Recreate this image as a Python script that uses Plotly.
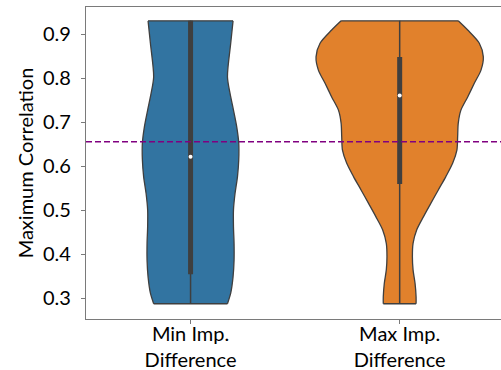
import plotly.graph_objects as go

# ---- data ----
categories = ["Min Imp.<br>Difference", "Max Imp.<br>Difference"]

# violin density profiles (relative density, 1 = widest violin section)
min_levels = [0.287, 0.311, 0.348, 0.386, 0.424, 0.462, 0.500, 0.538, 0.576,
              0.614, 0.652, 0.689, 0.727, 0.765, 0.803, 0.879, 0.930]
min_density = [0.441, 0.480, 0.508, 0.520, 0.520, 0.513, 0.513, 0.532, 0.561,
               0.576, 0.576, 0.552, 0.513, 0.472, 0.441, 0.480, 0.508]

max_levels = [0.287, 0.303, 0.333, 0.364, 0.394, 0.424, 0.455, 0.485, 0.515,
              0.545, 0.576, 0.606, 0.636, 0.667, 0.697, 0.727, 0.757, 0.788,
              0.818, 0.848, 0.879, 0.909, 0.930]
max_density = [0.196, 0.196, 0.184, 0.160, 0.152, 0.160, 0.204, 0.285, 0.372,
               0.460, 0.552, 0.633, 0.684, 0.693, 0.700, 0.732, 0.813, 0.892,
               0.972, 1.000, 0.952, 0.813, 0.700]

# inner box statistics
whisker_low = [0.287, 0.287]
q1 = [0.354, 0.559]
median = [0.621, 0.760]
q3 = [0.930, 0.848]
whisker_high = [0.930, 0.930]

threshold = 0.655

colors = ["#3274a1", "#e1812c"]
edge = "#3f3f3f"
axis_col = "#7a7a7a"
FONT = "Lato"
FS = 20
half_width = 0.4  # seaborn default width 0.8

profiles = [(min_levels, min_density), (max_levels, max_density)]

fig = go.Figure()

for i, (levels, dens) in enumerate(profiles):
    left = [i - half_width * d for d in dens]
    right = [i + half_width * d for d in dens]
    # left edge
    fig.add_trace(go.Scatter(
        x=left, y=levels, mode="lines",
        line=dict(color=edge, width=1.3, shape="spline", smoothing=0.8),
        hoverinfo="skip", showlegend=False))
    # right edge, filled back to the left edge
    fig.add_trace(go.Scatter(
        x=right, y=levels, mode="lines", fill="tonextx", fillcolor=colors[i],
        line=dict(color=edge, width=1.3, shape="spline", smoothing=0.8),
        hoverinfo="skip", showlegend=False))
    # flat top and bottom edges (cut at data range)
    for k in (0, -1):
        fig.add_trace(go.Scatter(
            x=[left[k], right[k]], y=[levels[k], levels[k]], mode="lines",
            line=dict(color=edge, width=1.3), hoverinfo="skip", showlegend=False))
    # whisker
    fig.add_trace(go.Scatter(
        x=[i, i], y=[whisker_low[i], whisker_high[i]], mode="lines",
        line=dict(color=edge, width=1.5), showlegend=False, hoverinfo="skip"))
    # interquartile bar
    fig.add_trace(go.Scatter(
        x=[i, i], y=[q1[i], q3[i]], mode="lines",
        line=dict(color=edge, width=5), showlegend=False, hoverinfo="skip"))
    # median
    fig.add_trace(go.Scatter(
        x=[i], y=[median[i]], mode="markers",
        marker=dict(color="white", size=4, line=dict(width=0)),
        showlegend=False, hoverinfo="skip"))

fig.add_shape(type="line", xref="paper", x0=0, x1=1, yref="y",
              y0=threshold, y1=threshold,
              line=dict(color="#800080", width=1.5, dash="6px,3px"))

fig.update_layout(
    width=501, height=370,
    margin=dict(l=86, r=0, t=7, b=51),
    paper_bgcolor="white", plot_bgcolor="white",
    font=dict(family=FONT, size=FS, color="black"),
    showlegend=False,
    xaxis=dict(
        range=[-0.5, 1.4845], tickmode="array", tickvals=[0, 1], ticktext=categories,
        showline=True, linecolor=axis_col, linewidth=1.2, mirror=True,
        ticks="outside", ticklen=4, tickcolor=axis_col, tickwidth=1,
        showgrid=False, zeroline=False, automargin=False,
        ticklabelstandoff=-7,
        tickfont=dict(family=FONT, size=FS, color="black"),
    ),
    yaxis=dict(
        range=[0.2523, 0.9614], tickmode="array",
        tickvals=[0.3, 0.4, 0.5, 0.6, 0.7, 0.8, 0.9],
        ticktext=["0.3", "0.4", "0.5", "0.6", "0.7", "0.8", "0.9"],
        showline=True, linecolor=axis_col, linewidth=1.2, mirror=False,
        ticks="outside", ticklen=4, tickcolor=axis_col, tickwidth=1,
        showgrid=False, zeroline=False, automargin=False,
        ticklabelstandoff=6,
        tickfont=dict(family=FONT, size=FS, color="black"),
        title=dict(text="Maximum Correlation", standoff=3,
                   font=dict(family=FONT, size=FS, color="black")),
    ),
)

fig.write_html("out.html", config={"displayModeBar": False},
               post_script="document.body.style.margin='0';")
